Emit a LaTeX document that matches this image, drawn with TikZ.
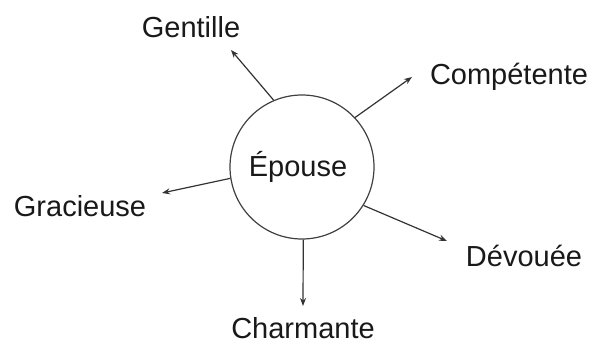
\documentclass[tikz,border=0pt]{standalone}
\usepackage{fontspec}
\setmainfont{Liberation Sans}
\usetikzlibrary{arrows.meta}
\begin{document}
\begin{tikzpicture}[x=1pt,y=-1pt,
  lbl/.style={inner sep=0pt,font=\fontsize{29}{34}\selectfont,text=black!90},
  arr/.style={draw=black!80,line width=1.2pt,-{Stealth[length=8pt,width=6pt]}},
  hub/.style={circle,draw=black!75,line width=1.2pt,minimum size=144pt,inner sep=0pt,font=\fontsize{29}{34}\selectfont}]
\useasboundingbox (0,0) rectangle (593,344);
\node[hub] (e) at (302,167) {};
\node[lbl] (et) at (298,167) {Épouse};
\node[lbl] (g) at (191,27) {Gentille};
\node[lbl] (c) at (509,77) {Compétente};
\node[lbl] (gr) at (80,206) {Gracieuse};
\node[lbl] (d) at (524,256) {Dévouée};
\node[lbl] (ch) at (303,328) {Charmante};
\coordinate (tg) at (231,50);
\coordinate (tc) at (412,77);
\coordinate (tgr) at (162,193);
\coordinate (td) at (447,241);
\coordinate (tch) at (303,306);
\draw[arr] (e.113) -- (tg);
\draw[arr] (e.43) -- (tc);
\draw[arr] (e.189) -- (tgr);
\draw[arr] (e.-32) -- (td);
\draw[arr] (e.-89) -- (tch);
\end{tikzpicture}
\end{document}
